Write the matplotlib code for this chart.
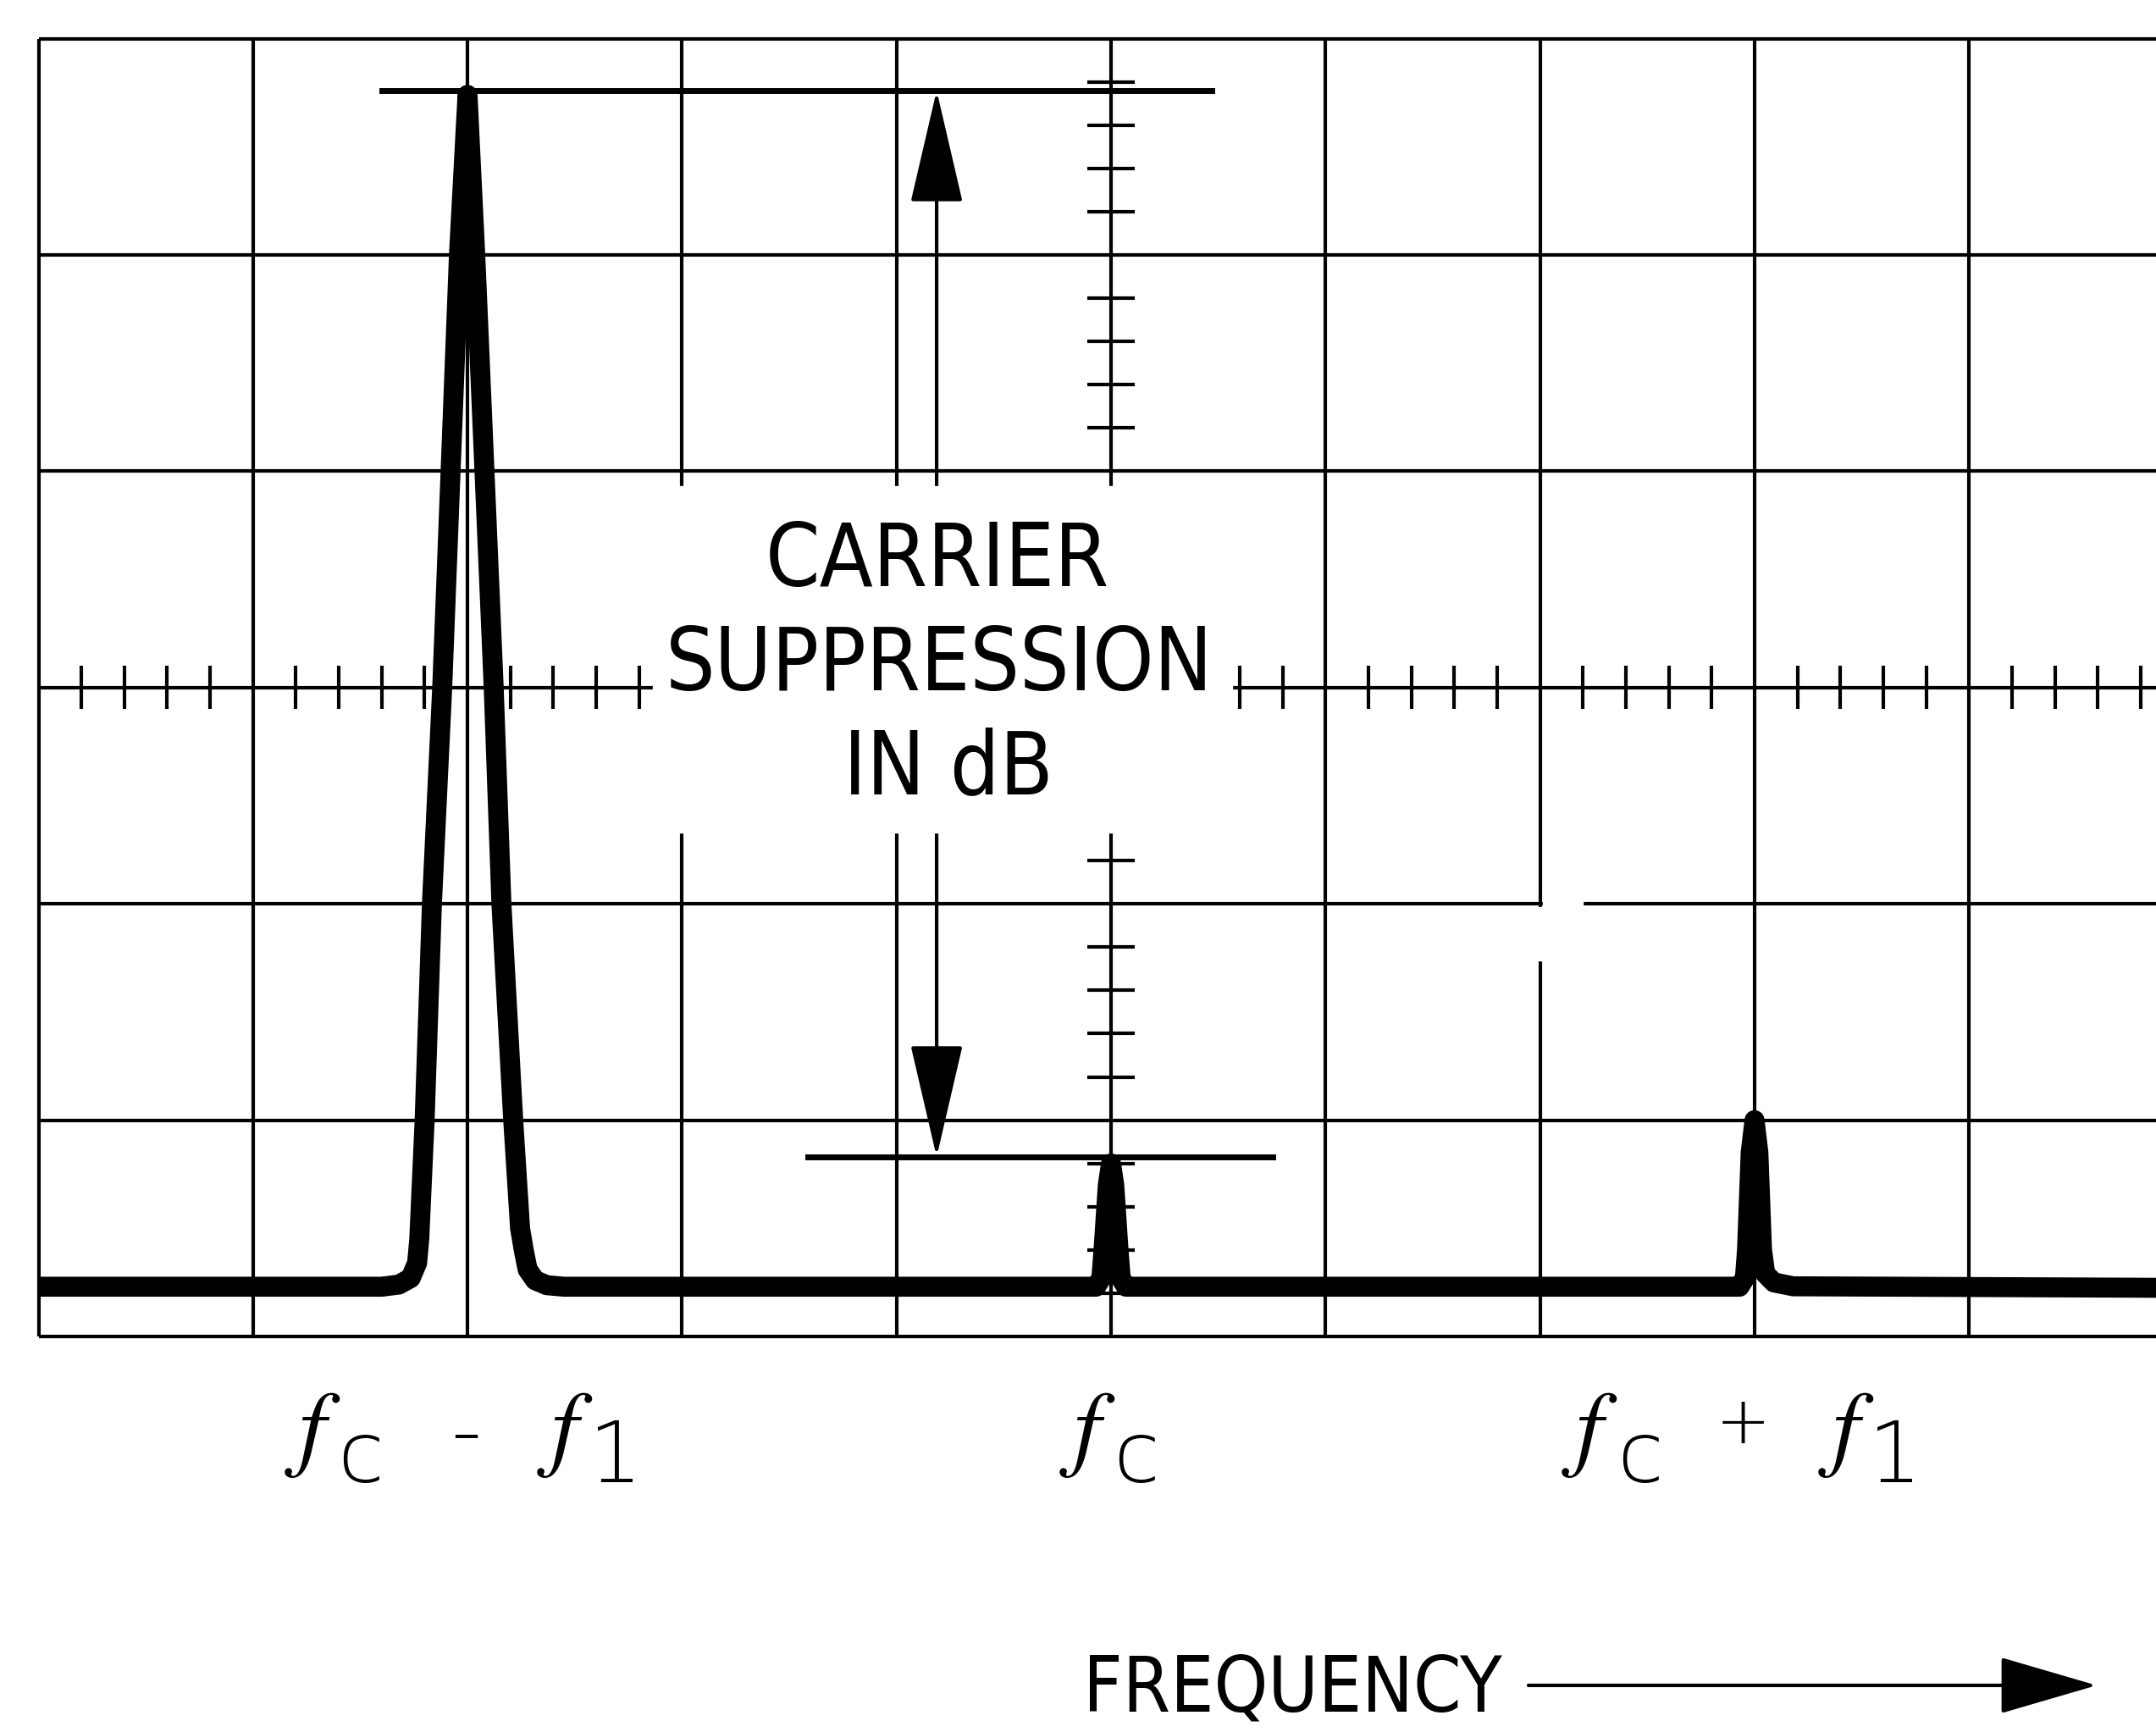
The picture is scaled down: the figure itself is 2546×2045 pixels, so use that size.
import matplotlib
matplotlib.use("Agg")
import matplotlib.pyplot as plt
from matplotlib import font_manager
from matplotlib.patches import Rectangle

# spectrum analyzer trace in graticule divisions
# (x from the left edge of the graticule, y up from the bottom line)
trace_x = [0.00, 1.60, 1.68, 1.735, 1.765, 1.775, 1.800, 1.834, 1.882, 1.921, 1.960, 2.000,
           2.036, 2.079, 2.122, 2.158, 2.213, 2.245, 2.262, 2.280, 2.315, 2.370, 2.450,
           4.930, 4.955, 4.965, 4.985, 5.000, 5.015, 5.035, 5.045, 5.070,
           7.930, 7.955, 7.965, 7.982, 8.000, 8.018, 8.035, 8.050, 8.090, 8.180, 9.900]
trace_y = [0.23, 0.23, 0.24, 0.27, 0.34, 0.45, 1.00, 2.00, 3.00, 4.00, 5.00, 5.74,
           5.00, 4.00, 3.00, 2.00, 1.00, 0.50, 0.40, 0.31, 0.26, 0.237, 0.23,
           0.23, 0.27, 0.40, 0.70, 0.80, 0.70, 0.40, 0.27, 0.23,
           0.23, 0.27, 0.40, 0.85, 1.00, 0.85, 0.40, 0.29, 0.25, 0.232, 0.225]

n_cols = 10
n_rows = 6
sideband_level = 5.76   # top reference line
carrier_level = 0.83    # lower reference line

# bottom labels: (text, x, kind)
freq_labels = [
    ("f", 1.281, "f"), ("c", 1.502, "sub"), ("-", 1.992, "op"), ("f", 2.457, "f"), ("1", 2.690, "sub"),
    ("f", 4.893, "f"), ("c", 5.118, "sub"),
    ("f", 7.234, "f"), ("c", 7.467, "sub"), ("+", 7.945, "op"), ("f", 8.427, "f"), ("1", 8.656, "sub"),
]
box_lines = ["CARRIER", "SUPPRESSION", "IN dB"]

names = {f.name for f in font_manager.fontManager.ttflist}
if "Liberation Sans Narrow" in names:
    letter_font = dict(family="Liberation Sans Narrow")
else:
    letter_font = dict(family="DejaVu Sans", stretch="condensed")

fig = plt.figure(figsize=(25.46, 20.45), dpi=100)
ax = fig.add_axes([0, 0, 1, 1])
ax.set_xlim(-45.5 / 253.3, (2546 - 45.5) / 253.3)
ax.set_ylim((1578 - 2045) / 255.4, 1578 / 255.4)
ax.axis("off")

grid_kw = dict(color="black", lw=3, solid_capstyle="butt", zorder=2)

# graticule
for i in range(n_cols + 1):
    ax.plot([i, i], [0, n_rows], **grid_kw)
for j in range(n_rows + 1):
    ax.plot([0, n_cols], [j, j], **grid_kw)

# minor ticks on the centre lines
for k in range(1, n_cols * 5):
    if k % 5:
        ax.plot([k * 0.2, k * 0.2], [2.9, 3.1], **grid_kw)
for k in range(1, n_rows * 5):
    if k % 5:
        ax.plot([4.89, 5.11], [k * 0.2, k * 0.2], **grid_kw)

# small gap in the graticule
ax.add_patch(Rectangle((7.012, 1.96), 0.185, 0.08, color="white", zorder=3))
ax.add_patch(Rectangle((6.985, 1.74), 0.03, 0.245, color="white", zorder=3))

# trace
ax.plot(trace_x, trace_y, color="black", lw=17, solid_joinstyle="round",
        solid_capstyle="butt", zorder=4)

# reference lines
ax.plot([1.60, 5.47], [sideband_level, sideband_level], color="black", lw=5, zorder=5)
ax.plot([3.585, 5.755], [carrier_level, carrier_level], color="black", lw=5, zorder=5)

# measurement arrows
arrow_style = "-|>,head_length=2.15,head_width=0.5"
ax.annotate("", xy=(4.187, sideband_level), xytext=(4.187, 3.9),
            arrowprops=dict(arrowstyle=arrow_style, mutation_scale=40, lw=3,
                            color="black", shrinkA=0, shrinkB=0), zorder=5)
ax.annotate("", xy=(4.187, carrier_level), xytext=(4.187, 2.4),
            arrowprops=dict(arrowstyle=arrow_style, mutation_scale=40, lw=3,
                            color="black", shrinkA=0, shrinkB=0), zorder=5)

# white box behind the caption
ax.add_patch(Rectangle((2.865, 2.33), 2.70, 1.60, color="white", zorder=6))
for txt, xb, yb in zip(box_lines, [4.19, 4.20, 4.24], [3.469, 2.987, 2.510]):
    ax.text(xb, yb, txt, fontsize=74, ha="center", va="baseline", zorder=7, **letter_font)

# frequency labels
for txt, xl, kind in freq_labels:
    if kind == "f":
        ax.text(xl, -0.446, "$f$", fontsize=82, math_fontfamily="stix",
                ha="center", va="center")
    elif kind == "sub":
        ax.text(xl, -0.673, txt, fontsize=72, family="DejaVu Sans", fontweight="light",
                ha="center", va="baseline")
    else:
        y_op = -0.458 if txt == "-" else -0.407
        ax.text(xl, y_op, txt, fontsize=56 if txt == "+" else 72, family="DejaVu Sans",
                fontweight="light", ha="center", va="center")

# frequency axis caption
ax.text(5.845, -1.738, "FREQUENCY", fontsize=65, ha="center", va="baseline", **letter_font)
ax.annotate("", xy=(9.595, -1.613), xytext=(6.946, -1.613),
            arrowprops=dict(arrowstyle="-|>,head_length=1.85,head_width=0.54",
                            mutation_scale=40, lw=3, color="black",
                            shrinkA=0, shrinkB=0))

fig.savefig("out.png", dpi=100, facecolor="white")
